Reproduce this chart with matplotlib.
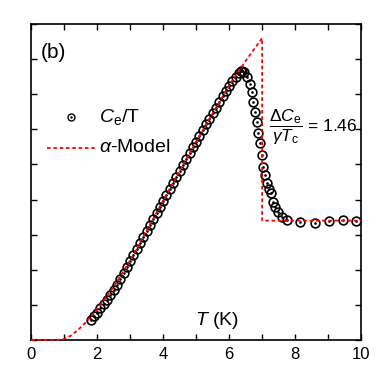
import matplotlib
matplotlib.use("Agg")
import matplotlib.pyplot as plt

plt.rcParams['font.family'] = ['Liberation Sans', 'DejaVu Sans']
plt.rcParams['mathtext.fontset'] = 'custom'
plt.rcParams['mathtext.rm'] = 'Liberation Sans'
plt.rcParams['mathtext.it'] = 'Liberation Sans:italic'

# measured Ce/T (arbitrary units)
T_data = [1.8, 1.9, 2.0, 2.1, 2.2, 2.3, 2.4, 2.5, 2.6, 2.7, 2.8, 2.9, 3.0, 3.1, 3.2, 3.3,
          3.4, 3.5, 3.6, 3.7, 3.8, 3.9, 4.0, 4.1, 4.2, 4.3, 4.4, 4.5, 4.6, 4.7, 4.8, 4.9,
          5.0, 5.1, 5.2, 5.3, 5.4, 5.5, 5.6, 5.7, 5.8, 5.9, 6.0, 6.1, 6.2, 6.3, 6.35, 6.4,
          6.45, 6.55, 6.64, 6.7, 6.73, 6.79, 6.85, 6.88, 6.94, 7.0, 7.03, 7.09, 7.15, 7.22,
          7.27, 7.33, 7.39, 7.48, 7.6, 7.76, 8.15, 8.6, 9.03, 9.45, 9.85]
C_data = [0.58, 0.68, 0.78, 0.90, 1.02, 1.13, 1.27, 1.42, 1.58, 1.74, 1.92, 2.08, 2.25, 2.42, 2.58, 2.75,
          2.93, 3.10, 3.28, 3.45, 3.62, 3.80, 3.97, 4.14, 4.30, 4.47, 4.64, 4.81, 4.98, 5.15, 5.32, 5.49,
          5.65, 5.82, 5.98, 6.14, 6.30, 6.46, 6.62, 6.78, 6.94, 7.09, 7.24, 7.38, 7.50, 7.60, 7.65, 7.66,
          7.63, 7.50, 7.29, 7.05, 6.77, 6.49, 6.20, 5.90, 5.60, 5.28, 4.93, 4.70, 4.48, 4.30,
          4.18, 3.94, 3.80, 3.66, 3.51, 3.43, 3.37, 3.34, 3.40, 3.43, 3.40]

# alpha-model curve
T_model = [0.0, 0.8, 1.0, 1.2, 1.4, 1.6, 1.8, 2.0, 2.5, 3.0, 3.5, 4.0, 4.5, 5.0, 5.5, 6.0,
           6.5, 7.0, 7.0, 10.0]
C_model = [0.0, 0.0, 0.03, 0.12, 0.27, 0.45, 0.65, 0.88, 1.52, 2.27, 3.12, 3.97, 4.82, 5.65, 6.45, 7.25,
           7.95, 8.6, 3.4, 3.4]

fig = plt.figure(figsize=(3.85, 3.78), dpi=100)
ax = fig.add_axes([0.081, 0.1005, 0.857, 0.836])

red_dash = (0, (2, 1.5))
ax.plot(T_model, C_model, color='red', lw=1.3, ls=red_dash, zorder=5, clip_on=False)
ax.plot(T_data, C_data, 'o', ms=6.3, mfc='none', mec='black', mew=1.2, zorder=4)
ax.plot(T_data, C_data, '.', ms=1.8, color='black', zorder=4)

ax.set_xlim(0, 10)
ax.set_ylim(0, 9)
ax.set_xticks([0, 2, 4, 6, 8, 10])
ax.set_xticks([1, 3, 5, 7, 9], minor=True)
ax.set_yticks(range(0, 10))
ax.set_yticklabels([])
ax.tick_params(which='both', direction='in', top=True, right=True, length=4, width=1.0,
               labelsize=12, pad=5)
for s in ax.spines.values():
    s.set_linewidth(1.2)

# legend drawn by hand
ax.plot([0.121], [0.706], 'o', ms=5, mfc='none', mec='black', mew=1.0, transform=ax.transAxes)
ax.plot([0.121], [0.706], '.', ms=1.5, color='black', transform=ax.transAxes)
ax.text(0.205, 0.706, r'$C_\mathrm{e}$/T', transform=ax.transAxes, fontsize=14, va='center')
ax.plot([0.048, 0.194], [0.608, 0.608], color='red', lw=1.3, ls=red_dash, transform=ax.transAxes)
ax.text(0.205, 0.608, r'$\alpha$-Model', transform=ax.transAxes, fontsize=14, va='center')

ax.text(0.03, 0.91, '(b)', transform=ax.transAxes, fontsize=15, va='center')
ax.text(0.495, 0.063, r'$T$ (K)', transform=ax.transAxes, fontsize=14, va='center')
ax.text(0.72, 0.672, r'$\dfrac{\Delta C_\mathrm{e}}{\gamma T_\mathrm{c}}$ = 1.46',
        transform=ax.transAxes, fontsize=12.5, va='center')

fig.savefig('out.png', dpi=100)
